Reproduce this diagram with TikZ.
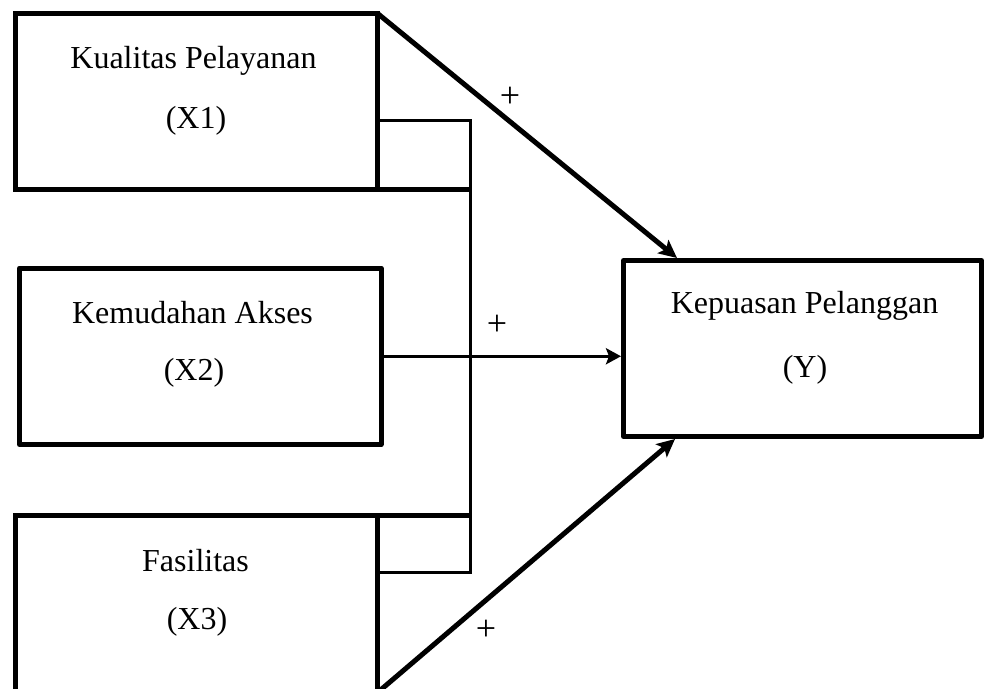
\documentclass[tikz,border=0pt]{standalone}
\usepackage{fontspec}
\setmainfont{Liberation Serif}
\usetikzlibrary{arrows.meta}
\begin{document}
\begin{tikzpicture}[x=1pt,y=-1pt,
  box/.style={draw, line width=5pt, inner sep=0pt, outer sep=0pt, minimum width=361.5pt},
  lbl/.style={inner sep=0pt, anchor=base, font=\fontsize{32}{38}\selectfont},
  sign/.style={inner sep=0pt, font=\fontsize{36}{40}\selectfont},
  thinline/.style={line width=3pt},
  thinarrow/.style={line width=3pt, -{Stealth[length=15pt, width=16pt, inset=3pt]}},
  thickarrow/.style={line width=5pt, -{Stealth[length=18pt, width=17pt, inset=4pt]}}]
\useasboundingbox (0,0) rectangle (984,688);
% boxes
\node[box, minimum height=176pt] (x1) at (196.25,101) {};
\node[box, minimum height=176.5pt, line join=round] (x2) at (200.25,356.25) {};
\node[box, minimum width=358pt, minimum height=176pt, line join=round] (y) at (802.5,348.5) {};
\node[box, minimum height=178pt] (x3) at (196.25,604) {};
% texts
\node[lbl] (x1a) at (193.5,68) {Kualitas Pelayanan};
\node[lbl] (x1b) at (196,128) {(X1)};
\node[lbl] (x2a) at (192.5,323) {Kemudahan Akses};
\node[lbl] (x2b) at (194,380) {(X2)};
\node[lbl] (ya) at (804.5,313) {Kepuasan Pelanggan};
\node[lbl] (yb) at (805,377) {(Y)};
\node[lbl] (x3a) at (195.5,571) {Fasilitas};
\node[lbl] (x3b) at (197,629) {(X3)};
% bracket
\coordinate (b1) at (470,120);
\coordinate (b2) at (470,572);
\draw[thinline] (x1.east |- b1) -- (b1) -- (b2) -- (x3.east |- b2);
\draw[line width=5pt] (x1.south east) -- ([xshift=1.5pt]x1.south east -| b1);
\draw[line width=5pt] (x3.north east) -- ([xshift=1.5pt]x3.north east -| b1);
% arrows
\draw[thickarrow] (x1.north east) -- ([xshift=53.5pt, yshift=2.5pt]y.north west);
\draw[thinarrow] (x2.east) -- ([xshift=-2.5pt]x2.east -| y.west);
\draw[thickarrow] (x3.south east) -- ([xshift=51.5pt, yshift=-2.5pt]y.south west);
% signs
\node[sign] (p1) at (510,97) {+};
\node[sign] (p2) at (497,325) {+};
\node[sign] (p3) at (486,630) {+};
\end{tikzpicture}
\end{document}
